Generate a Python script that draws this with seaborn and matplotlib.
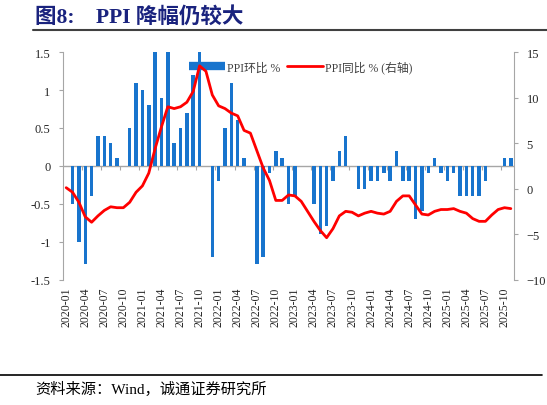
import numpy as np
import pandas as pd
import seaborn as sns
import matplotlib.pyplot as plt
from matplotlib.lines import Line2D

# months 2020-01 .. 2025-11
months = pd.date_range('2020-01-01', '2025-11-01', freq='MS').strftime('%Y-%m').tolist()

# PPI month-on-month, %
ppi_mom = [0.0, -0.5, -1.0, -1.3, -0.4, 0.4, 0.4, 0.3, 0.1, 0.0, 0.5, 1.1,
           1.0, 0.8, 1.6, 0.9, 1.6, 0.3, 0.5, 0.7, 1.2, 2.5, 0.0, -1.2,
           -0.2, 0.5, 1.1, 0.6, 0.1, 0.0, -1.3, -1.2, -0.1, 0.2, 0.1, -0.5,
           -0.4, 0.0, 0.0, -0.5, -0.9, -0.8, -0.2, 0.2, 0.4, 0.0, -0.3, -0.3,
           -0.2, -0.2, -0.1, -0.2, 0.2, -0.2, -0.2, -0.7, -0.6, -0.1, 0.1, -0.1,
           -0.2, -0.1, -0.4, -0.4, -0.4, -0.4, -0.2, 0.0, 0.0, 0.1, 0.1]

# PPI year-on-year, % (right axis)
ppi_yoy = [0.1, -0.4, -1.5, -3.1, -3.7, -3.0, -2.4, -2.0, -2.1, -2.1, -1.5, -0.4,
           0.3, 1.7, 4.4, 6.8, 9.0, 8.8, 9.0, 9.5, 10.7, 13.5, 12.9, 10.3,
           9.1, 8.8, 8.3, 8.0, 6.4, 6.1, 4.2, 2.3, 0.9, -1.3, -1.3, -0.7,
           -0.8, -1.4, -2.5, -3.6, -4.6, -5.4, -4.4, -3.0, -2.5, -2.6, -3.0, -2.7,
           -2.5, -2.7, -2.8, -2.5, -1.4, -0.8, -0.8, -1.8, -2.8, -2.9, -2.5, -2.3,
           -2.3, -2.2, -2.5, -2.7, -3.3, -3.6, -3.6, -2.9, -2.3, -2.1, -2.2]

left_ticks = [-1.5, -1, -0.5, 0, 0.5, 1, 1.5]
right_ticks = [-10, -5, 0, 5, 10, 15]

sns.set_style('white')
plt.rcParams['font.family'] = ['Liberation Serif', 'Noto Sans CJK SC', 'DejaVu Sans']

BLUE = '#1874CD'
RED = '#FF0000'
GREY = '#A6A6A6'

fig = plt.figure(figsize=(5.47, 4.06), dpi=100)
ax = fig.add_axes([0.1152, 0.309, 0.8245, 0.560])

df = pd.DataFrame({'month': months, 'mom': ppi_mom, 'yoy': ppi_yoy})
x = np.arange(len(months))

sns.barplot(data=df, x='month', y='mom', color=BLUE, width=0.55,
            saturation=1, linewidth=0, ax=ax)
ax.set_xlim(-0.5, len(months) - 0.5)
ax.set_ylim(-1.5, 1.5)
ax.set_yticks(left_ticks)
ax.set_yticklabels([f'{v:g}' for v in left_ticks])
ax.set_xlabel('')
ax.set_ylabel('')

ax2 = ax.twinx()
sns.lineplot(x=x, y=df['yoy'], color=RED, linewidth=2, ax=ax2)
ax2.set_ylim(-10, 15)
ax2.set_yticks(right_ticks)
ax2.set_ylabel('')

# spines
for a in (ax, ax2):
    for s in ('top', 'bottom'):
        a.spines[s].set_visible(False)
ax.spines['right'].set_visible(False)
ax2.spines['left'].set_visible(False)
ax.spines['left'].set_color(GREY)
ax2.spines['right'].set_color(GREY)
ax.axhline(0, color=GREY, lw=1, zorder=0.5)

# ticks on zero line, labels at bottom
ax.set_xticks(np.arange(2.5, len(months), 3))
ax.set_xticklabels([])
ax.tick_params(axis='x', direction='out', length=3, color=GREY, pad=0)
ax.xaxis.set_ticks_position('bottom')
ax.spines['bottom'].set_position(('data', 0))

sec = ax.secondary_xaxis(0)
sec.set_xticks(x[::3])
sec.set_xticklabels([months[i] for i in x[::3]], rotation=90, fontsize=8.5)
sec.tick_params(length=0, pad=5)
sec.spines['bottom'].set_visible(False)

ax.tick_params(axis='y', direction='out', length=3, color=GREY, labelsize=9, pad=6,
               left=True)
ax2.tick_params(axis='y', direction='out', length=3, color=GREY, labelsize=9, pad=6,
                right=True)

handles = [Line2D([0], [0], color=BLUE, lw=6, solid_capstyle='butt'),
           Line2D([0], [0], color=RED, lw=2)]
leg = ax.legend(handles, ['PPI环比 %', 'PPI同比 % (右轴)'], ncol=2, frameon=False,
                loc='center left', bbox_to_anchor=(0.28, 0.935), fontsize=8.5,
                handlelength=3.0, handletextpad=0.2, columnspacing=0.6,
                borderaxespad=0, borderpad=0)
for t in leg.get_texts():
    t.set_color('#404040')

# title and source
fig.text(0.064, 0.958, '图8:    PPI 降幅仍较大', fontsize=15.5, fontweight='bold',
         color='#1A237E', va='center', ha='left')
fig.add_artist(Line2D([0.06, 1.0], [0.924, 0.924], color='#404040', lw=1.5))
fig.add_artist(Line2D([0.0, 0.99], [0.074, 0.074], color='#000000', lw=1.2))
fig.text(0.064, 0.04, '资料来源：Wind，诚通证券研究所', fontsize=11,
         color='#000000', va='center', ha='left')

fig.savefig('out.png', dpi=100)
